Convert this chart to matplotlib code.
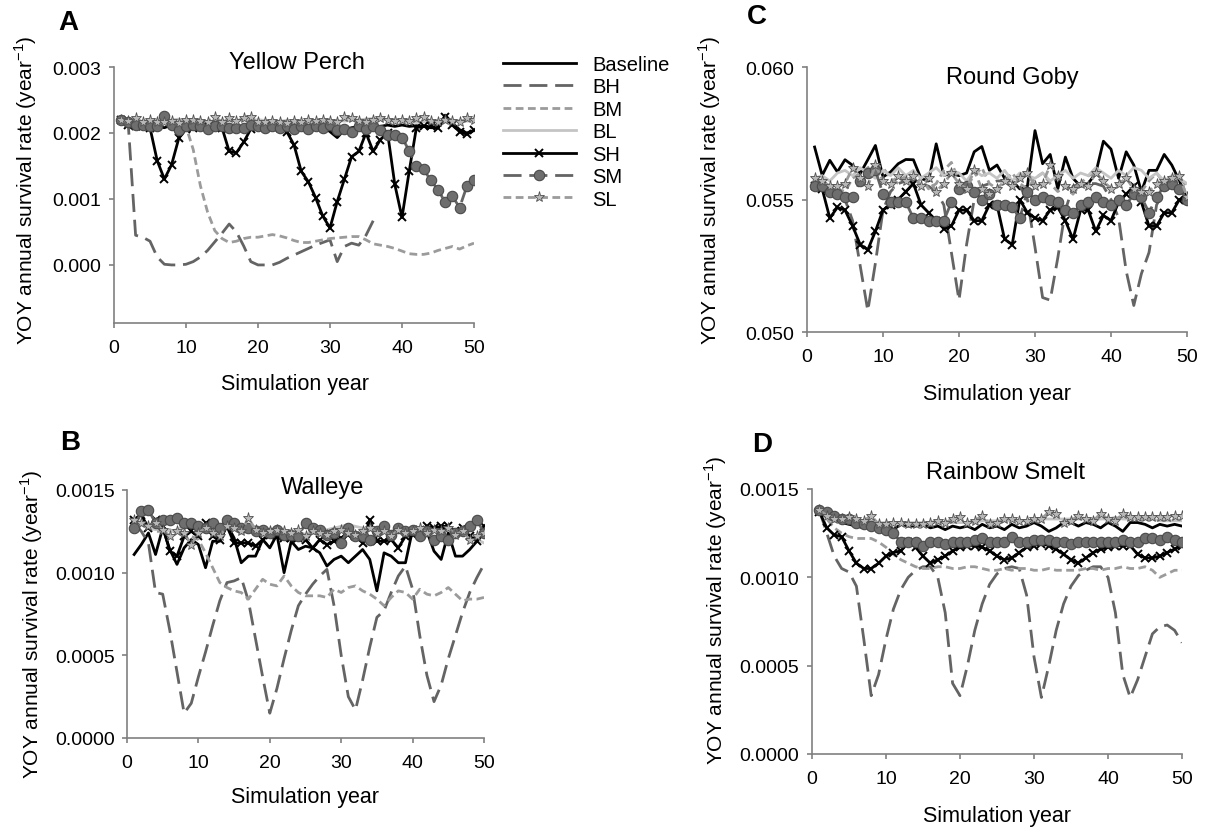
import numpy as np
import matplotlib
matplotlib.use("Agg")
import matplotlib.pyplot as plt
from matplotlib.ticker import FormatStrFormatter

plt.rcParams['font.family'] = ['Liberation Sans', 'DejaVu Sans']
plt.rcParams['mathtext.fontset'] = 'custom'
plt.rcParams['mathtext.rm'] = 'Liberation Sans'

nan = np.nan
years = np.arange(1, 51)
scenarios = ["Baseline", "BH", "BM", "BL", "SH", "SM", "SL"]

# Yellow Perch, survival in units of 1e-3 per year
yp_base = np.array([2.18, 2.12, 2.10, 2.12, 2.10, 2.10, 2.08, 2.12, 2.10, 2.06,
                    2.10, 2.10, 2.12, 2.10, 2.08, 2.10, 2.08, 2.08, 2.10, 2.10,
                    2.12, 2.10, 2.08, 2.10, 2.08, 2.10, 2.06, 2.10, 2.10, 2.02,
                    1.93, 2.05, 2.08, 2.10, 2.08, 2.06, 2.10, 2.12, 2.10, 2.12,
                    2.10, 2.11, 2.10, 2.08, 2.08, 2.27, 2.15, 2.05, 2.00, 2.04]) * 1e-3
yp_bh = np.array([2.20, 2.10, 0.45, 0.42, 0.36, 0.12, 0.01, 0.00, 0.00, 0.01,
                  0.05, 0.12, 0.22, 0.35, 0.48, 0.62, 0.50, 0.29, 0.05, 0.00,
                  0.00, 0.00, 0.04, 0.10, 0.15, 0.20, 0.25, 0.30, 0.34, 0.38,
                  0.05, 0.28, 0.33, 0.30, 0.45, 0.67, nan, nan, nan, nan,
                  nan, nan, nan, nan, nan, nan, nan, nan, nan, nan]) * 1e-3
yp_bm = np.array([2.20, 2.18, 2.18, 2.17, 2.18, 2.18, 2.17, 2.16, 2.14, 2.10,
                  1.75, 1.20, 0.80, 0.52, 0.40, 0.34, 0.36, 0.40, 0.42, 0.42,
                  0.44, 0.46, 0.44, 0.41, 0.37, 0.34, 0.34, 0.36, 0.38, 0.40,
                  0.41, 0.42, 0.43, 0.43, 0.38, 0.32, 0.30, 0.28, 0.25, 0.21,
                  0.17, 0.16, 0.16, 0.18, 0.22, 0.25, 0.28, 0.24, 0.29, 0.33]) * 1e-3
yp_bl = np.array([2.20, 2.20, 2.19, 2.18, 2.19, 2.20, 2.19, 2.20, 2.21, 2.18,
                  2.19, 2.18, 2.17, 2.18, 2.19, 2.18, 2.19, 2.20, 2.19, 2.20,
                  2.19, 2.17, 2.18, 2.19, 2.18, 2.17, 2.18, 2.19, 2.18, 2.17,
                  2.19, 2.18, 2.19, 2.20, 2.21, 2.22, 2.21, 2.20, 2.19, 2.18,
                  2.17, 2.16, 2.17, 2.18, 2.16, 2.17, 2.18, 2.19, 2.18, 2.18]) * 1e-3
yp_sh = np.array([2.20, 2.12, 2.10, 2.10, 2.08, 1.58, 1.30, 1.52, 1.92, 2.06,
                  2.08, 2.10, 2.10, 2.10, 2.08, 1.72, 1.70, 1.86, 2.06, 2.10,
                  2.10, 2.10, 2.08, 2.02, 1.82, 1.42, 1.26, 1.02, 0.74, 0.56,
                  0.96, 1.30, 1.64, 1.72, 2.00, 1.72, 1.90, 2.00, 1.22, 0.72,
                  1.42, 2.08, 2.10, 2.10, 2.08, 2.24, 2.12, 2.02, 1.98, 2.04]) * 1e-3
yp_sm = np.array([2.20, 2.16, 2.12, 2.12, 2.10, 2.10, 2.25, 2.12, 2.05, 2.10,
                  2.12, 2.10, 2.06, 2.10, 2.10, 2.08, 2.08, 2.08, 2.12, 2.10,
                  2.08, 2.10, 2.08, 2.10, 2.06, 2.10, 2.06, 2.10, 2.08, 2.12,
                  2.04, 2.06, 2.02, 2.10, 2.06, 2.10, 2.05, 1.97, 1.97, 1.93,
                  1.73, 1.50, 1.45, 1.28, 1.14, 0.95, 1.04, 0.87, 1.19, 1.28]) * 1e-3
yp_sl = np.array([2.20, 2.18, 2.22, 2.17, 2.19, 2.17, 2.16, 2.18, 2.15, 2.20,
                  2.19, 2.18, 2.17, 2.24, 2.17, 2.22, 2.18, 2.22, 2.24, 2.16,
                  2.17, 2.18, 2.17, 2.15, 2.18, 2.17, 2.19, 2.18, 2.20, 2.18,
                  2.16, 2.24, 2.22, 2.18, 2.16, 2.20, 2.22, 2.20, 2.18, 2.20,
                  2.18, 2.22, 2.24, 2.18, 2.16, 2.20, 2.18, 2.16, 2.22, 2.20]) * 1e-3

# Round Goby, units of 1e-3 per year
rg_base = np.array([56.98, 55.91, 56.48, 56.04, 56.50, 56.29, 55.98, 56.50, 57.04, 55.85,
                    56.04, 56.35, 56.51, 56.50, 55.79, 55.70, 57.10, 55.91, 55.98, 55.90,
                    56.00, 56.80, 57.00, 56.10, 56.30, 55.80, 55.70, 55.40, 55.50, 57.60,
                    56.35, 56.70, 55.40, 56.60, 55.80, 55.50, 55.60, 56.00, 57.20, 56.90,
                    55.80, 56.80, 56.30, 55.30, 56.10, 56.10, 56.70, 56.30, 55.70, 55.00]) * 1e-3
rg_bh = np.array([55.6, 55.6, 55.5, 55.4, 55.0, 54.2, 52.5, 50.8, 52.6, 54.6,
                  55.3, 55.6, 55.7, 55.7, 55.6, 55.5, 55.3, 54.8, 53.0, 51.2,
                  53.3, 55.0, 55.5, 55.6, 55.7, 55.7, 55.7, 55.5, 55.0, 53.2,
                  51.3, 51.2, 52.8, 54.6, 55.5, 55.6, 55.6, 55.6, 55.5, 55.0,
                  54.3, 52.3, 51.0, 52.2, 53.0, 54.8, 55.3, 55.5, 55.5, 55.3]) * 1e-3
rg_bm = np.array([55.6, 55.7, 55.5, 55.4, 55.3, 55.8, 56.0, 56.2, 56.3, 56.2,
                  55.8, 55.6, 55.9, 55.5, 55.8, 55.4, 55.6, 56.1, 56.4, 55.7,
                  55.5, 55.9, 56.2, 55.6, 55.4, 55.7, 56.0, 55.6, 55.4, 55.8,
                  56.0, 55.6, 55.3, 55.5, 55.2, 55.6, 55.9, 56.0, 55.7, 55.4,
                  55.6, 55.9, 55.5, 55.3, 55.7, 56.0, 55.6, 55.4, 55.8, 55.5]) * 1e-3
rg_bl = np.array([55.8, 55.9, 55.7, 56.0, 56.1, 55.9, 56.2, 56.0, 55.8, 56.1,
                  55.9, 56.2, 55.9, 56.1, 55.8, 56.0, 56.2, 55.9, 56.1, 56.0,
                  55.7, 56.1, 55.9, 56.0, 55.8, 56.1, 55.7, 56.0, 55.9, 55.8,
                  56.0, 55.7, 55.9, 56.1, 55.8, 56.0, 55.9, 56.2, 56.0, 55.8,
                  56.1, 55.9, 56.2, 56.1, 55.8, 56.0, 55.7, 55.9, 55.8, 55.6]) * 1e-3
rg_sh = np.array([55.5, 55.4, 54.3, 54.7, 54.6, 54.0, 53.3, 53.1, 53.8, 54.6,
                  54.8, 55.0, 55.3, 55.6, 54.8, 54.5, 54.2, 53.9, 54.0, 54.6,
                  54.6, 54.2, 54.2, 54.8, 54.8, 53.5, 53.3, 55.0, 54.5, 54.3,
                  54.2, 54.6, 54.7, 54.2, 53.5, 54.6, 54.6, 53.8, 54.4, 54.2,
                  54.9, 55.2, 55.5, 54.9, 54.0, 54.0, 54.5, 54.5, 55.0, 55.0]) * 1e-3
rg_sm = np.array([55.5, 55.5, 55.3, 55.2, 55.1, 55.1, 55.7, 56.0, 56.1, 55.2,
                  54.9, 54.9, 54.9, 54.3, 54.3, 54.2, 54.2, 54.2, 54.9, 55.4,
                  55.5, 55.3, 55.0, 55.2, 54.8, 54.8, 54.7, 54.3, 55.3, 55.0,
                  55.1, 55.0, 54.9, 54.6, 54.5, 54.8, 54.9, 55.1, 54.9, 54.8,
                  55.0, 54.8, 55.2, 55.1, 54.5, 55.1, 55.5, 55.6, 55.4, 55.0]) * 1e-3
rg_sl = np.array([55.8, 55.7, 55.5, 55.5, 55.6, 56.2, 55.8, 55.5, 56.3, 55.7,
                  55.6, 55.9, 55.7, 55.9, 55.5, 55.8, 55.3, 55.6, 56.0, 55.6,
                  55.4, 56.1, 55.4, 55.2, 55.4, 55.7, 55.5, 55.8, 56.0, 55.5,
                  55.6, 56.3, 55.9, 55.5, 55.4, 55.6, 55.5, 56.0, 55.7, 55.4,
                  55.6, 55.8, 55.4, 55.3, 55.3, 55.6, 55.7, 55.8, 55.9, 55.1]) * 1e-3

# Walleye, units of 1e-3 per year
wa_base = np.array([1.11, 1.17, 1.24, 1.11, 1.27, 1.14, 1.05, 1.15, 1.20, 1.17,
                    1.03, 1.19, 1.19, 1.29, 1.21, 1.06, 1.10, 1.10, 1.20, 1.15,
                    1.23, 1.00, 1.19, 1.14, 1.16, 1.15, 1.12, 1.04, 1.08, 1.10,
                    1.06, 1.10, 1.14, 1.08, 0.89, 1.12, 1.10, 1.06, 1.06, 1.26,
                    1.22, 1.25, 1.13, 1.08, 1.24, 1.10, 1.10, 1.14, 1.19, 1.24]) * 1e-3
wa_bh = np.array([1.30, 1.25, 1.18, 0.88, 0.87, 0.65, 0.40, 0.15, 0.21, 0.37,
                  0.52, 0.68, 0.83, 0.94, 0.95, 0.97, 0.83, 0.60, 0.37, 0.15,
                  0.30, 0.48, 0.65, 0.80, 0.87, 0.93, 0.98, 1.02, 0.80, 0.50,
                  0.25, 0.17, 0.35, 0.55, 0.73, 0.77, 0.88, 0.98, 1.04, 0.90,
                  0.62, 0.38, 0.22, 0.32, 0.48, 0.62, 0.76, 0.88, 0.97, 1.05]) * 1e-3
wa_bm = np.array([1.30, 1.28, 1.27, 1.25, 1.25, 1.26, 1.24, 1.22, 1.22, 1.20,
                  1.12, 1.03, 0.94, 0.91, 0.89, 0.88, 0.84, 0.90, 0.96, 0.93,
                  0.92, 0.98, 0.92, 0.88, 0.86, 0.86, 0.86, 0.85, 0.90, 0.88,
                  0.91, 0.92, 0.89, 0.87, 0.84, 0.80, 0.85, 0.89, 0.88, 0.84,
                  0.90, 0.87, 0.86, 0.88, 0.91, 0.87, 0.83, 0.84, 0.84, 0.85]) * 1e-3
wa_bl = np.array([1.30, 1.29, 1.27, 1.26, 1.27, 1.25, 1.26, 1.28, 1.27, 1.26,
                  1.25, 1.27, 1.26, 1.28, 1.27, 1.25, 1.26, 1.28, 1.27, 1.25,
                  1.24, 1.26, 1.24, 1.25, 1.23, 1.24, 1.25, 1.26, 1.27, 1.28,
                  1.29, 1.28, 1.27, 1.26, 1.25, 1.26, 1.24, 1.25, 1.26, 1.27,
                  1.26, 1.25, 1.26, 1.27, 1.26, 1.25, 1.24, 1.23, 1.20, 1.18]) * 1e-3
wa_sh = np.array([1.32, 1.35, 1.27, 1.32, 1.28, 1.13, 1.10, 1.22, 1.25, 1.22,
                  1.30, 1.22, 1.20, 1.28, 1.18, 1.18, 1.18, 1.16, 1.20, 1.23,
                  1.22, 1.21, 1.21, 1.21, 1.20, 1.15, 1.20, 1.17, 1.19, 1.21,
                  1.23, 1.22, 1.18, 1.32, 1.19, 1.19, 1.20, 1.15, 1.22, 1.23,
                  1.26, 1.28, 1.27, 1.28, 1.28, 1.25, 1.27, 1.22, 1.19, 1.28]) * 1e-3
wa_sm = np.array([1.27, 1.37, 1.38, 1.30, 1.32, 1.32, 1.33, 1.30, 1.30, 1.28,
                  1.27, 1.30, 1.27, 1.32, 1.30, 1.27, 1.27, 1.25, 1.26, 1.24,
                  1.26, 1.23, 1.23, 1.22, 1.30, 1.27, 1.26, 1.23, 1.24, 1.18,
                  1.27, 1.22, 1.22, 1.20, 1.25, 1.28, 1.23, 1.27, 1.25, 1.26,
                  1.22, 1.25, 1.20, 1.22, 1.20, 1.24, 1.25, 1.28, 1.32, 1.24]) * 1e-3
wa_sl = np.array([1.32, 1.30, 1.28, 1.30, 1.26, 1.22, 1.25, 1.24, 1.17, 1.24,
                  1.27, 1.24, 1.22, 1.28, 1.27, 1.25, 1.33, 1.26, 1.24, 1.25,
                  1.26, 1.25, 1.24, 1.26, 1.22, 1.25, 1.24, 1.23, 1.25, 1.26,
                  1.24, 1.23, 1.25, 1.27, 1.24, 1.25, 1.22, 1.26, 1.24, 1.25,
                  1.27, 1.24, 1.26, 1.25, 1.27, 1.23, 1.25, 1.20, 1.22, 1.24]) * 1e-3

# Rainbow Smelt, units of 1e-3 per year
rs_base = np.array([1.38, 1.35, 1.33, 1.31, 1.30, 1.29, 1.28, 1.29, 1.30, 1.30,
                    1.27, 1.30, 1.29, 1.29, 1.30, 1.28, 1.29, 1.27, 1.29, 1.28,
                    1.29, 1.27, 1.30, 1.28, 1.29, 1.27, 1.30, 1.28, 1.29, 1.31,
                    1.29, 1.26, 1.28, 1.31, 1.31, 1.29, 1.31, 1.30, 1.28, 1.31,
                    1.29, 1.26, 1.31, 1.31, 1.30, 1.28, 1.30, 1.29, 1.30, 1.29]) * 1e-3
rs_bh = np.array([1.38, 1.25, 1.12, 1.05, 1.03, 0.95, 0.65, 0.33, 0.45, 0.65,
                  0.82, 0.93, 1.00, 1.04, 1.06, 1.06, 1.00, 0.80, 0.40, 0.33,
                  0.50, 0.70, 0.85, 0.96, 1.02, 1.05, 1.06, 1.05, 0.90, 0.55,
                  0.32, 0.50, 0.70, 0.85, 0.95, 1.01, 1.04, 1.06, 1.06, 1.00,
                  0.80, 0.45, 0.32, 0.42, 0.55, 0.68, 0.72, 0.73, 0.70, 0.63]) * 1e-3
rs_bm = np.array([1.38, 1.33, 1.28, 1.25, 1.23, 1.22, 1.22, 1.22, 1.20, 1.17,
                  1.13, 1.10, 1.08, 1.06, 1.05, 1.05, 1.06, 1.06, 1.05, 1.05,
                  1.06, 1.06, 1.05, 1.04, 1.04, 1.05, 1.04, 1.05, 1.05, 1.04,
                  1.04, 1.05, 1.04, 1.04, 1.04, 1.04, 1.05, 1.05, 1.04, 1.05,
                  1.05, 1.06, 1.05, 1.05, 1.06, 1.04, 1.00, 1.02, 1.04, 1.04]) * 1e-3
rs_bl = np.array([1.38, 1.36, 1.35, 1.34, 1.33, 1.33, 1.32, 1.32, 1.31, 1.31,
                  1.31, 1.30, 1.31, 1.31, 1.31, 1.31, 1.31, 1.31, 1.31, 1.31,
                  1.31, 1.31, 1.32, 1.32, 1.32, 1.32, 1.32, 1.32, 1.32, 1.32,
                  1.33, 1.33, 1.33, 1.33, 1.33, 1.33, 1.33, 1.33, 1.33, 1.33,
                  1.34, 1.33, 1.33, 1.33, 1.33, 1.33, 1.32, 1.32, 1.32, 1.32]) * 1e-3
rs_sh = np.array([1.37, 1.28, 1.24, 1.23, 1.15, 1.08, 1.05, 1.05, 1.08, 1.12,
                  1.14, 1.15, 1.20, 1.17, 1.12, 1.08, 1.10, 1.12, 1.15, 1.17,
                  1.18, 1.18, 1.17, 1.15, 1.12, 1.10, 1.11, 1.14, 1.17, 1.18,
                  1.19, 1.18, 1.16, 1.13, 1.10, 1.08, 1.11, 1.14, 1.16, 1.17,
                  1.18, 1.18, 1.18, 1.13, 1.11, 1.11, 1.12, 1.14, 1.16, 1.18]) * 1e-3
rs_sm = np.array([1.38, 1.37, 1.35, 1.33, 1.33, 1.31, 1.30, 1.29, 1.28, 1.27,
                  1.25, 1.20, 1.20, 1.20, 1.18, 1.20, 1.20, 1.19, 1.20, 1.20,
                  1.20, 1.21, 1.22, 1.20, 1.20, 1.20, 1.23, 1.20, 1.20, 1.21,
                  1.21, 1.21, 1.20, 1.20, 1.19, 1.20, 1.20, 1.20, 1.20, 1.20,
                  1.20, 1.21, 1.20, 1.20, 1.22, 1.22, 1.21, 1.23, 1.21, 1.20]) * 1e-3
rs_sl = np.array([1.38, 1.35, 1.33, 1.33, 1.34, 1.33, 1.32, 1.35, 1.30, 1.30,
                  1.31, 1.31, 1.30, 1.30, 1.30, 1.31, 1.32, 1.31, 1.33, 1.34,
                  1.31, 1.32, 1.35, 1.30, 1.31, 1.33, 1.33, 1.32, 1.32, 1.33,
                  1.33, 1.37, 1.36, 1.31, 1.32, 1.35, 1.33, 1.32, 1.36, 1.33,
                  1.32, 1.36, 1.34, 1.34, 1.34, 1.34, 1.34, 1.34, 1.35, 1.35]) * 1e-3

styles = {
    "Baseline": dict(color="black", lw=2.0),
    "BH": dict(color="#646464", lw=2.0, dashes=(6.5, 2.8)),
    "BM": dict(color="#9b9b9b", lw=2.0, dashes=(2.8, 1.6)),
    "BL": dict(color="#c4c4c4", lw=2.0),
    "SH": dict(color="black", lw=2.0, marker="x", ms=5.5, mew=1.4),
    "SM": dict(color="#646464", lw=2.0, dashes=(6.5, 2.8), marker="o", ms=7.5,
               mfc="#6e6e6e", mec="#4a4a4a", mew=0.8),
    "SL": dict(color="#9b9b9b", lw=2.0, dashes=(2.8, 1.6), marker="*", ms=8,
               mfc="#b8b8b8", mec="#505050", mew=0.6),
}

W, H = 1216, 829
fig = plt.figure(figsize=(W / 100, H / 100), dpi=100)

def fx(x):
    return x / W

def fy(y):
    return 1 - y / H

panels = [
    # letter, title, series, ylim, yticks, fmt, box(l,t,r,b), letter xy, title xy, ylabel xy, xlabel xy
    ("A", "Yellow Perch", [yp_base, yp_bh, yp_bm, yp_bl, yp_sh, yp_sm, yp_sl],
     (-0.00088, 0.003), [0, 0.001, 0.002, 0.003], "%.3f",
     (114, 68, 474, 324), (68, 23), (297, 63), (26, 190), (295, 385)),
    ("B", "Walleye", [wa_base, wa_bh, wa_bm, wa_bl, wa_sh, wa_sm, wa_sl],
     (0, 0.0015), [0, 0.0005, 0.001, 0.0015], "%.4f",
     (127, 491, 484, 739), (70, 443), (323, 488), (32, 624), (305, 798)),
    ("C", "Round Goby", [rg_base, rg_bh, rg_bm, rg_bl, rg_sh, rg_sm, rg_sl],
     (0.050, 0.060), [0.050, 0.055, 0.060], "%.3f",
     (807, 68, 1187, 333), (757, 17), (1012, 78), (710, 190), (997, 395)),
    ("D", "Rainbow Smelt", [rs_base, rs_bh, rs_bm, rs_bl, rs_sh, rs_sm, rs_sl],
     (0, 0.0015), [0, 0.0005, 0.001, 0.0015], "%.4f",
     (812, 490, 1182, 755), (762, 445), (1005, 473), (716, 610), (997, 817)),
]

ylab = r"YOY annual survival rate (year$^{\mathregular{-1}}$)"
handles = []
for letter, title, series, ylim, yticks, fmt, box, lxy, txy, yxy, xxy in panels:
    l, t, r, b = box
    ax = fig.add_axes([fx(l), fy(b), fx(r - l), (b - t) / H])
    for name, vals in zip(scenarios, series):
        ln, = ax.plot(years, vals, label=name, **styles[name])
        if letter == "A":
            handles.append(ln)
    ax.set_xlim(0, 50)
    ax.set_ylim(*ylim)
    ax.set_xticks([0, 10, 20, 30, 40, 50])
    ax.set_yticks(yticks)
    ax.yaxis.set_major_formatter(FormatStrFormatter(fmt))
    for s in ["top", "right"]:
        ax.spines[s].set_visible(False)
    for s in ["left", "bottom"]:
        ax.spines[s].set_color("#808080")
        ax.spines[s].set_linewidth(1.2)
    ax.tick_params(direction="out", length=3.5, width=1.2, color="#808080",
                   labelsize=14)
    ax.tick_params(axis="x", pad=8)
    ax.tick_params(axis="y", pad=5.5)
    ax.patch.set_alpha(0)
    fig.text(fx(lxy[0]), fy(lxy[1]), letter, fontsize=20, fontweight="bold",
             ha="center", va="center")
    fig.text(fx(txy[0]), fy(txy[1]), title, fontsize=17, ha="center", va="center")
    fig.text(fx(yxy[0]), fy(yxy[1]), ylab, fontsize=15, rotation=90,
             ha="center", va="center")
    fig.text(fx(xxy[0]), fy(xxy[1]), "Simulation year", fontsize=15.5,
             ha="center", va="center")

fig.legend(handles, scenarios, loc="upper left", bbox_to_anchor=(fx(503), fy(56)),
           frameon=False, fontsize=14.5, handlelength=3.6, handletextpad=0.85,
           labelspacing=0.17, borderpad=0, borderaxespad=0)

fig.savefig("out.png", dpi=100)
